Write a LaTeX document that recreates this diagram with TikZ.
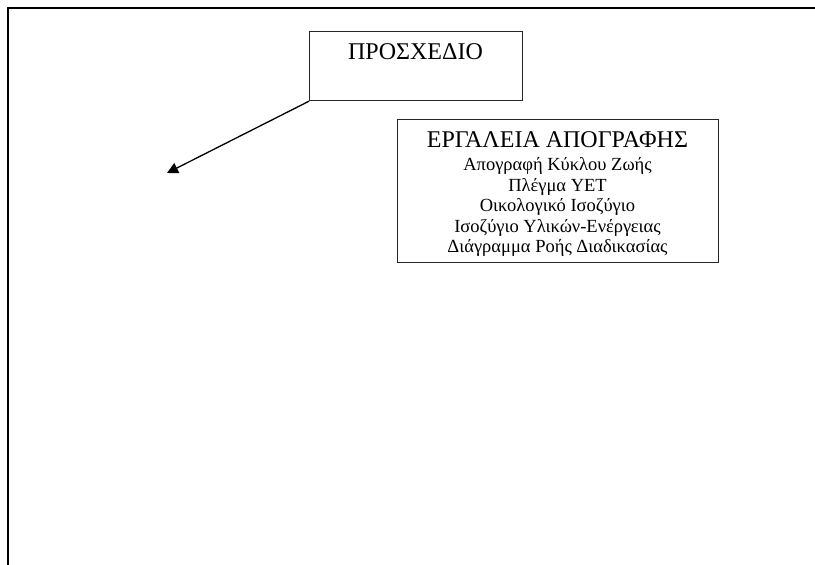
\documentclass[tikz,border=0pt]{standalone}
\usepackage{fontspec}
\setmainfont{Liberation Serif}
\usetikzlibrary{arrows.meta}
\tikzset{
  framestroke/.style={line width=1.6pt, black},
  boxstroke/.style={draw=black!85, line width=1.2pt, inner sep=0pt},
  headtext/.style={anchor=base, inner sep=0pt, font=\fontsize{24}{28}\selectfont},
  itemtext/.style={anchor=base, inner sep=0pt, font=\fontsize{18.5}{22}\selectfont},
  pointer/.style={line width=1.3pt, -{Triangle[length=11pt,width=11pt]}}
}
\begin{document}
\begin{tikzpicture}[x=1pt,y=-1pt]
  \useasboundingbox (0,0) rectangle (815,565);
  % page frame: top and left edges only
  \draw[framestroke] (8,565) -- (8,8) -- (815,8);

  % draft box
  \node[boxstroke, anchor=north west, minimum width=213pt, minimum height=69pt] (plan) at (309,31) {};
  \node[headtext] (plantitle) at (415.5,59.5) {ΠΡΟΣΧΕΔΙΟ};

  % arrow from the draft box
  \coordinate (tip) at (167,173);
  \draw[pointer] (plan.south west) -- (tip);

  % inventory tools box
  \node[boxstroke, anchor=north west, minimum width=321pt, minimum height=143pt] (tools) at (397,119) {};
  \node[headtext] (toolstitle) at (557.5,147.5) {ΕΡΓΑΛΕΙΑ ΑΠΟΓΡΑΦΗΣ};
  \node[itemtext] (tool1) at (557.5,170) {Απογραφή Κύκλου Ζωής};
  \node[itemtext] (tool2) at (557.5,191) {Πλέγμα ΥΕΤ};
  \node[itemtext] (tool3) at (557.5,211.5) {Οικολογικό Ισοζύγιο};
  \node[itemtext] (tool4) at (557.5,232) {Ισοζύγιο Υλικών-Ενέργειας};
  \node[itemtext] (tool5) at (557.5,252.5) {Διάγραμμα Ροής Διαδικασίας};
\end{tikzpicture}
\end{document}
